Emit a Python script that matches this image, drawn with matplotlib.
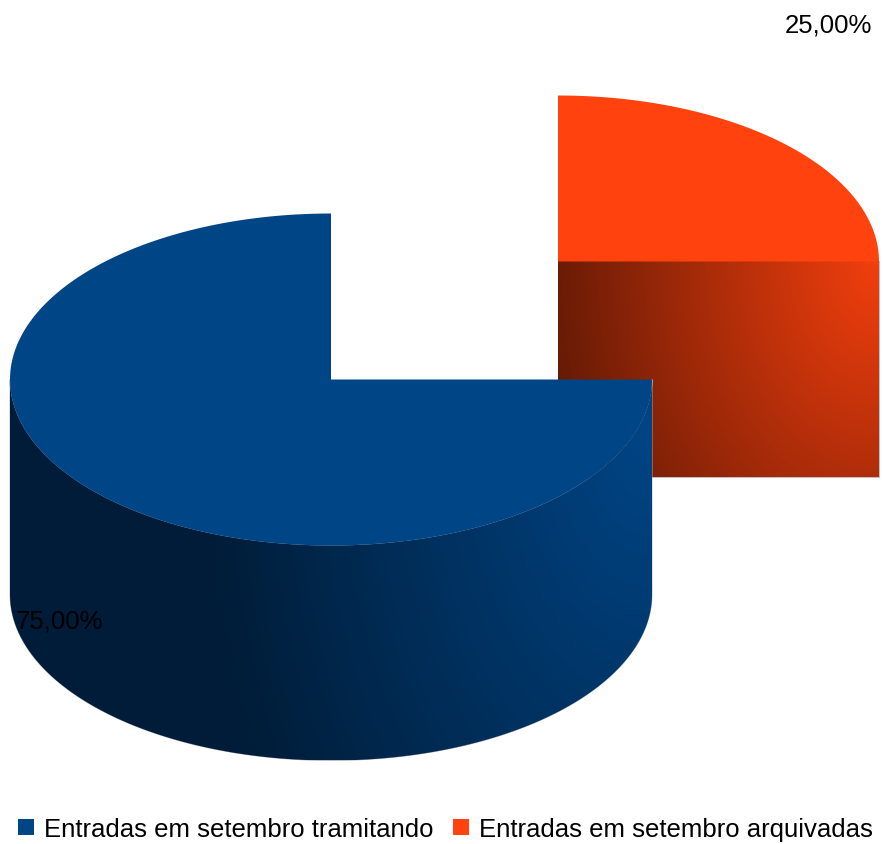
import numpy as np
import matplotlib
matplotlib.use('Agg')
import matplotlib.pyplot as plt
from matplotlib.patches import Polygon

plt.rcParams['font.family'] = ['Liberation Sans', 'DejaVu Sans']

# Chart data
categories = ['Entradas em setembro tramitando', 'Entradas em setembro arquivadas']
shares = [75.0, 25.0]
colors = ['#004586', '#ff420e']

# Layout in image pixels
rx, ry, depth = 321, 166, 215
centers = [(331, 380.5), (558, 262.5)]
label_pos = [(16, 622), (785, 25)]
# gradient: bright point, top brightness, x falloff, y falloff, floor
shade = [((652, 430), 1.0, 0.0013, 0.0008, 0.42), ((879, 262), 0.95, 0.00165, 0.0012, 0.40)]


# Arc points on the top ellipse, angle in degrees counter-clockwise from east
def arc(cx, cy, a0, a1):
    t = np.radians(np.linspace(a0, a1, 300))
    return np.column_stack([cx + rx * np.cos(t), cy - ry * np.sin(t)])


# Gradient image of a slice side, clipped by the polygon given
def draw_side(ax, pts, color, sh, z):
    x0, y0 = pts.min(axis=0)
    x1, y1 = pts.max(axis=0)
    xx, yy = np.meshgrid(np.linspace(x0, x1, 500), np.linspace(y0, y1, 500))
    (bx, by), peak, sx, sy, floor = sh
    f = peak - np.hypot((xx - bx) * sx, (yy - by) * sy)
    f = np.clip(f, floor, 1)
    rgb = np.array(matplotlib.colors.to_rgb(color))
    img = f[..., None] * rgb
    # thin grey rim under the gradient, the reference has it along the wall edges
    ax.add_patch(Polygon(pts, closed=True, facecolor='none', edgecolor='#b4b4b4', lw=0.6, zorder=z - 0.5))
    im = ax.imshow(img, extent=(x0, x1, y1, y0), origin='upper', aspect='auto', zorder=z)
    im.set_clip_path(Polygon(pts, closed=True, transform=ax.transData))


fig = plt.figure(figsize=(8.83, 8.45), dpi=100)
ax = fig.add_axes([0, 0, 1, 1])

# Slice angles from the shares: orange runs from east to north, blue takes the rest
angles = [(90, 90 + shares[0] * 3.6), (90 + shares[0] * 3.6 - 360, 90)]

# Draw the orange slice first so the blue one sits on top of it
for i in [1, 0]:
    cx, cy = centers[i]
    a0, a1 = angles[i]
    z = 2 if i == 1 else 5
    top = np.vstack([[cx, cy], arc(cx, cy, a0, a1)])
    if i == 0:
        # round outer wall of the front half
        lower = arc(cx, cy, 180, 360)
        side = np.vstack([lower, lower[::-1] + [0, depth]])
    else:
        # flat cut wall from the centre to the rim, started a bit higher so no seam shows
        side = np.array([[cx, cy - 1], [cx + rx, cy - 1], [cx + rx, cy + depth], [cx, cy + depth]], dtype=float)
    draw_side(ax, side, colors[i], shade[i], z)
    ax.add_patch(Polygon(top, closed=True, facecolor=colors[i], edgecolor='none', zorder=z + 1))

for (x, y), v in zip(label_pos, shares):
    ax.text(x, y, f'{v:.2f}%'.replace('.', ','), fontsize=18.5, color='black',
            va='center', ha='left', zorder=10)

handles = [plt.Rectangle((0, 0), 1, 1, facecolor=c, edgecolor='none') for c in colors]
ax.legend(handles, categories, ncol=2, loc='lower left', bbox_to_anchor=(18, 842),
          bbox_transform=ax.transData,
          frameon=False, fontsize=18.5, handlelength=0.62, handleheight=0.62,
          handletextpad=0.39, columnspacing=0.75, borderpad=0, borderaxespad=0)

ax.set_xlim(0, 883)
ax.set_ylim(845, 0)
ax.axis('off')

fig.savefig('out.png', dpi=100, facecolor='white')
